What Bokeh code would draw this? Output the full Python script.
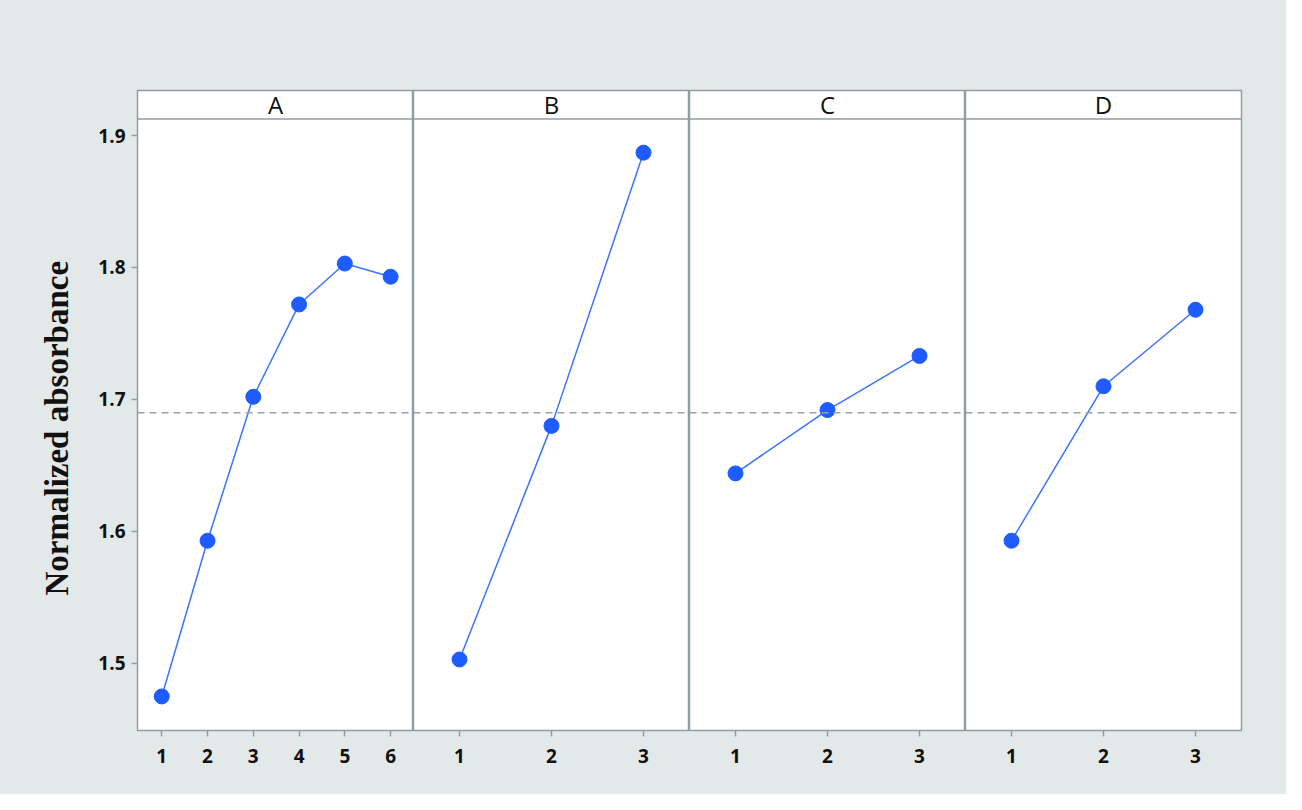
from bokeh.plotting import figure
from bokeh.layouts import row
from bokeh.models import FixedTicker, Span, Label, Range1d, Title
from bokeh.embed import file_html
from bokeh.resources import INLINE

# ---- data ----
factors = ["A", "B", "C", "D"]
levels_A = [1, 2, 3, 4, 5, 6]
values_A = [1.475, 1.593, 1.702, 1.772, 1.803, 1.793]
levels_B = [1, 2, 3]
values_B = [1.503, 1.680, 1.887]
levels_C = [1, 2, 3]
values_C = [1.644, 1.692, 1.733]
levels_D = [1, 2, 3]
values_D = [1.593, 1.710, 1.768]
grand_mean = 1.690
y_ticks = [1.5, 1.6, 1.7, 1.8, 1.9]
y_label = "Normalized absorbance"

levels = [levels_A, levels_B, levels_C, levels_D]
values = [values_A, values_B, values_C, values_D]

# ---- style ----
BG = "#e3e8e8"
GRID = "#8e9ea2"
BLUE = "#1f5cff"
LINE_BLUE = "#3a74ff"
DASH = "#9aa4a6"
TXT = "#111111"

y_lo, y_hi = 1.4492, 1.9341
header_bottom = 1.9125
x_ranges = [(0.47, 6.50), (0.5, 3.5), (0.5, 3.5), (0.5, 3.5)]

FRAME_W = 276
LEFT_B, RIGHT_B, TOP_B, BOT_B = 137, 45, 90, 64
figs = []
for i, (fac, lv, vals, xr) in enumerate(zip(factors, levels, values, x_ranges)):
    left = LEFT_B if i == 0 else 0
    right = RIGHT_B if i == 3 else 0
    p = figure(width=FRAME_W + left + right, height=TOP_B + 640 + BOT_B,
               x_range=Range1d(*xr), y_range=Range1d(y_lo, y_hi),
               output_backend="svg", toolbar_location=None,
               y_axis_location="left" if i == 0 else None,
               min_border_left=left, min_border_right=right,
               min_border_top=TOP_B, min_border_bottom=BOT_B)
    p.border_fill_color = BG
    p.background_fill_color = "white"
    p.outline_line_color = GRID
    p.outline_line_width = 1.5
    p.xgrid.visible = False
    p.ygrid.visible = False

    xa = p.xaxis[0]
    xa.ticker = FixedTicker(ticks=lv)
    xa.axis_line_color = None
    xa.major_tick_line_color = GRID
    xa.major_tick_line_width = 1.5
    xa.major_tick_out = 6
    xa.major_tick_in = 0
    xa.minor_tick_line_color = None
    xa.major_label_standoff = 12
    xa.major_label_text_font = "Open Sans"
    xa.major_label_text_font_style = "bold"
    xa.major_label_text_font_size = "19px"
    xa.major_label_text_color = TXT

    if i == 0:
        ya = p.yaxis[0]
        ya.ticker = FixedTicker(ticks=y_ticks)
        ya.axis_line_color = None
        ya.major_tick_line_color = GRID
        ya.major_tick_line_width = 1.5
        ya.major_tick_out = 6
        ya.major_tick_in = 0
        ya.minor_tick_line_color = None
        ya.major_label_standoff = 6
        ya.major_label_text_font = "Open Sans"
        ya.major_label_text_font_style = "bold"
        ya.major_label_text_font_size = "19px"
        ya.major_label_text_color = TXT
        # axis title, placed to sit centred on the data area below the header
        p.add_layout(Title(text=y_label, align="left", offset=135, standoff=41,
                           text_font="Liberation Serif", text_font_style="bold",
                           text_font_size="33px", text_color=TXT), "left")

    # header strip
    p.add_layout(Span(location=header_bottom, dimension="width",
                      line_color=GRID, line_width=1.5))
    p.add_layout(Label(x=(xr[0] + xr[1]) / 2, y=(header_bottom + y_hi) / 2,
                       text=fac, text_align="center", text_baseline="middle",
                       text_font="Open Sans", text_font_size="24px",
                       text_color=TXT))
    # grand mean
    p.add_layout(Span(location=grand_mean, dimension="width",
                      line_color=DASH, line_width=1.5, line_dash="7 5"))

    p.line(lv, vals, line_color=LINE_BLUE, line_width=1.5)
    p.scatter(lv, vals, size=15, fill_color=BLUE, line_color=BLUE)
    figs.append(p)

layout = row(*figs, spacing=0, styles={"background-color": BG})
open("out.html", "w").write(file_html(layout, INLINE))
